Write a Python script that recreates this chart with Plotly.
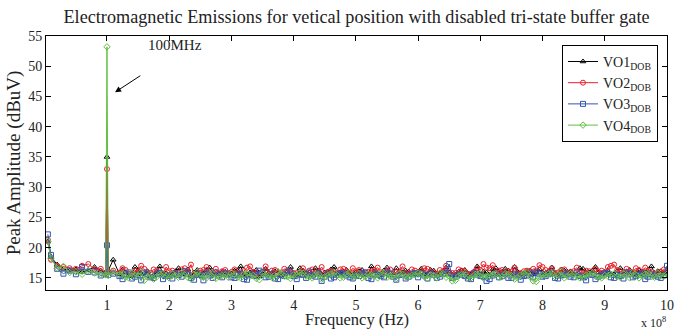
import plotly.graph_objects as go

# Frequencies in MHz
head_mhz = [5, 10, 20, 30, 40, 50, 60, 70, 80, 90, 98, 100, 102, 110]
tail_mhz = list(range(120, 1001, 10))
mid_mhz = list(range(125, 1000, 10))

vo1_head = [21.0, 18.5, 17.2, 16.5, 16.2, 16.4, 16.0, 16.3, 16.8, 16.2, 16.0, 35.0, 16.2, 18.0]
vo1_tail = [15.6,15.9,15.4,16.3,15.8,15.2,16.0,15.7,15.5,
            16.1,15.6,16.4,15.9,15.3,16.2,15.8,15.6,16.0,15.7,
            16.2,15.5,15.9,16.3,15.6,15.8,16.1,15.4,16.0,15.7,
            16.6,15.8,15.5,16.2,15.9,16.4,15.7,16.0,15.6,15.9,
            16.3,15.7,16.1,15.5,16.7,15.8,15.9,16.2,15.6,16.0,
            15.8,16.3,15.6,16.0,15.9,15.5,16.2,15.7,16.1,15.6,
            15.9,16.4,15.8,16.5,15.7,16.0,15.6,16.2,15.9,15.8,
            16.1,15.7,16.3,16.0,15.6,16.6,15.8,16.2,15.9,16.0,
            15.7,16.1,15.9,16.3,15.6,16.0,16.4,15.8,16.1,15.9]
vo1_mid = [16.4,15.3,16.8,15.6,16.1,15.4,16.9,15.8,
           15.5,16.6,15.9,15.2,16.3,15.7,16.7,15.6,16.0,15.4,
           16.2,16.9,15.5,16.0,15.3,16.5,15.8,16.1,15.6,16.8,
           15.4,16.2,15.9,16.6,15.5,16.0,16.8,15.7,16.3,15.6,
           16.1,15.5,16.9,15.8,16.2,15.4,16.6,15.9,16.0,15.7,
           16.5,15.6,16.2,15.8,16.7,15.5,16.0,16.3,15.6,16.9,
           16.0,15.5,16.6,15.9,16.2,16.8,15.7,16.1,15.6,16.4,
           15.8,16.7,15.5,16.2,16.0,15.6,16.5,15.9,16.8,15.7,
           16.2,15.6,16.6,16.0,15.8,16.3,15.5,16.9,16.1,15.8]

vo2_head = [21.3, 18.0, 17.0, 16.8, 16.6, 16.5, 17.0, 17.3, 16.4, 16.5, 15.8, 33.0, 16.0, 16.2]
vo2_tail = [15.9,16.3,15.6,16.0,16.5,15.8,16.2,15.7,16.1,
            15.8,16.4,16.0,15.6,16.2,16.8,15.9,15.7,16.3,16.0,
            15.7,16.1,16.9,15.8,16.0,15.6,16.3,15.9,16.2,15.8,
            16.0,15.6,16.4,16.1,15.7,16.2,15.9,16.5,15.8,16.1,
            15.7,16.0,16.3,15.9,16.2,15.6,16.1,15.8,16.4,15.9,
            16.6,16.0,15.7,16.1,15.9,15.8,16.2,15.6,16.0,16.3,
            16.7,17.1,16.2,15.8,16.0,15.7,16.1,15.9,16.2,16.8,
            16.0,15.8,16.3,15.7,16.1,15.9,16.2,15.8,16.0,15.9,
            17.0,16.3,15.8,16.1,16.6,15.9,16.2,15.7,16.0,16.1]
vo2_mid = [16.6,15.7,16.2,17.0,15.9,16.4,15.6,16.8,
           16.2,15.8,16.6,17.2,15.9,16.3,15.7,16.5,16.1,15.8,
           16.4,15.9,16.7,16.0,15.6,16.9,16.2,15.8,16.5,16.1,
           15.8,16.6,16.2,15.9,16.8,16.0,15.7,16.4,16.1,16.6,
           16.3,15.9,16.1,16.7,15.8,16.4,16.0,16.9,15.7,16.2,
           16.1,16.5,15.9,16.3,17.0,15.8,16.4,16.1,15.7,16.6,
           17.3,16.6,15.9,16.3,16.1,16.7,15.8,16.2,16.5,17.1,
           16.3,16.6,15.9,16.4,16.0,16.7,15.8,16.1,16.5,16.2,
           16.8,17.2,16.1,16.5,15.9,16.3,16.7,16.0,15.8,16.4]

vo3_head = [22.2, 18.8, 16.5, 15.7, 16.2, 15.6, 16.8, 16.0, 15.9, 15.4, 15.6, 20.4, 15.5, 15.7]
vo3_tail = [15.3,15.7,14.9,15.5,15.9,15.1,15.6,14.8,15.4,
            15.8,15.2,15.6,14.7,15.5,15.9,15.0,15.4,15.7,15.1,
            15.5,14.8,15.6,15.3,15.9,15.2,14.9,15.5,16.0,15.3,
            15.6,15.0,15.4,15.8,15.2,14.9,15.5,15.7,15.1,15.4,
            15.8,15.0,15.6,15.3,15.9,15.2,15.5,14.9,15.6,15.1,
            15.4,15.7,15.0,15.6,17.3,15.2,15.5,14.9,15.8,15.3,
            14.5,15.4,15.1,15.6,15.0,15.5,15.3,15.7,15.9,15.2,
            15.6,15.0,15.4,15.7,15.1,15.3,14.6,15.5,15.2,15.8,
            15.1,15.5,14.9,15.6,15.3,15.8,15.2,15.4,15.0,17.0]
vo3_mid = [14.8,15.9,15.2,14.6,15.6,15.0,15.8,15.3,
           14.9,15.5,16.1,15.0,15.7,14.6,15.4,15.9,15.1,15.6,
           15.0,15.7,14.7,15.4,16.2,15.1,15.6,14.8,15.3,15.9,
           14.8,15.5,15.9,15.2,14.5,15.6,15.1,15.8,15.4,14.9,
           15.3,15.9,14.8,15.5,15.1,15.7,14.7,15.6,15.2,15.8,
           15.7,14.9,15.5,15.2,15.8,15.0,15.6,15.3,14.8,15.5,
           15.2,14.8,15.7,15.3,15.0,15.6,14.7,15.4,15.1,15.7,
           15.3,15.8,14.9,15.5,15.2,15.9,15.1,15.6,14.8,15.4,
           15.7,15.0,15.3,15.9,15.1,15.5,14.8,15.6,15.2,15.4]

vo4_head = [21.0, 18.2, 16.6, 16.9, 15.9, 16.0, 15.6, 16.2, 15.8, 15.6, 15.5, 53.2, 15.4, 15.9]
vo4_tail = [15.5,15.1,15.8,15.3,14.6,15.6,15.2,15.7,15.0,
            15.4,15.9,15.1,15.6,15.3,15.0,15.7,15.2,15.5,15.8,
            15.1,15.6,15.3,14.9,15.7,15.4,15.0,15.8,15.2,15.5,
            15.9,15.3,15.0,15.6,15.2,15.7,15.4,15.1,15.8,15.3,
            15.0,15.6,15.3,15.9,15.1,15.5,15.7,15.2,15.4,15.8,
            15.2,15.5,15.0,15.7,15.3,14.6,15.6,15.1,15.4,15.8,
            15.3,15.6,15.1,15.7,15.4,15.0,15.8,15.2,14.4,15.5,
            15.7,15.2,16.1,15.3,15.6,15.0,15.5,15.8,15.1,15.4,
            15.6,15.2,15.7,15.0,15.5,15.3,15.8,15.1,15.4,15.6]
vo4_mid = [15.8,15.0,15.4,15.9,15.2,14.8,15.6,15.3,
           15.7,15.1,15.5,14.8,16.0,15.2,15.6,14.9,15.4,15.1,
           15.6,15.0,15.8,15.4,14.7,15.5,15.1,15.9,15.3,14.9,
           15.5,15.8,15.2,15.6,14.8,15.4,15.9,15.0,15.6,15.1,
           15.7,15.2,15.5,15.0,15.8,15.3,14.9,15.6,15.2,15.5,
           15.6,14.9,15.4,15.8,15.1,14.5,15.3,15.7,15.0,15.5,
           15.0,15.4,15.7,15.2,15.6,14.8,15.5,15.9,14.5,15.2,
           15.4,15.8,15.5,15.0,15.7,15.3,15.1,15.6,15.4,15.0,
           15.3,15.7,15.1,15.5,15.9,15.0,15.6,15.2,15.8,15.3]

series_names = ["VO1<sub>DOB</sub>", "VO2<sub>DOB</sub>", "VO3<sub>DOB</sub>", "VO4<sub>DOB</sub>"]
series_parts = [(vo1_head, vo1_tail, vo1_mid), (vo2_head, vo2_tail, vo2_mid),
                (vo3_head, vo3_tail, vo3_mid), (vo4_head, vo4_tail, vo4_mid)]
colors = ["#000000", "#e8202a", "#3456b0", "#62c040"]
symbols = ["triangle-up-open", "circle-open", "square-open", "diamond-open"]

x_tick_vals = [1e8 * i for i in range(1, 11)]
x_tick_text = [str(i) for i in range(1, 11)]
y_tick_vals = [15, 20, 25, 30, 35, 40, 45, 50, 55]

FONT = "Liberation Serif, Times New Roman, serif"


def merge(head, tail, mid):
    pts = list(zip(head_mhz, head)) + list(zip(tail_mhz, tail)) + list(zip(mid_mhz, mid))
    pts.sort(key=lambda p: p[0])
    return [p[0] * 1e6 for p in pts], [p[1] for p in pts]


fig = go.Figure()
for name, parts, c, s in zip(series_names, series_parts, colors, symbols):
    xs, ys = merge(*parts)
    fig.add_trace(go.Scatter(
        x=xs, y=ys, name=name, mode="lines+markers",
        line=dict(color=c, width=1),
        marker=dict(symbol=s, size=5, color=c, line=dict(width=1, color=c)),
    ))

fig.update_layout(
    width=674, height=329,
    margin=dict(l=46, r=7, t=36, b=39),
    paper_bgcolor="white", plot_bgcolor="white",
    font=dict(family=FONT, color="#222222", size=14),
    title=dict(text="Electromagnetic Emissions for vetical position with disabled tri-state buffer gate",
               x=0.5, xref="paper", xanchor="center", y=0.948, yanchor="middle",
               font=dict(size=18.2, family=FONT, color="#222222")),
    showlegend=True,
    legend=dict(x=0.9855, y=0.965, xanchor="right", yanchor="top",
                bgcolor="white", bordercolor="#000000", borderwidth=1,
                font=dict(size=14, family=FONT, color="#222222"),
                tracegroupgap=0, itemwidth=30),
    xaxis=dict(range=[2e6, 1e9], tickvals=x_tick_vals, ticktext=x_tick_text,
               ticks="inside", ticklen=5, tickcolor="#000000",
               showline=True, linecolor="#000000", linewidth=1, mirror="ticks",
               showgrid=False, zeroline=False, ticklabelstandoff=2, automargin=False,
               tickfont=dict(size=14, family=FONT)),
    yaxis=dict(range=[13, 55], tickvals=y_tick_vals,
               ticks="inside", ticklen=5, tickcolor="#000000",
               showline=True, linecolor="#000000", linewidth=1, mirror="ticks",
               showgrid=False, zeroline=False,
               title=dict(text="Peak Amplitude (dBuV)", font=dict(size=19, family=FONT), standoff=2),
               tickfont=dict(size=14, family=FONT)),
)

# x-axis title placed as paper text, just below the tick labels
fig.add_annotation(x=0.5, y=-0.116, xref="paper", yref="paper", text="Frequency (Hz)",
                   showarrow=False, xanchor="center", yanchor="middle",
                   font=dict(size=16.5, family=FONT, color="#222222"))

fig.add_annotation(x=1.13e8, y=45.7, ax=1.56e8, ay=48.6, xref="x", yref="y",
                   axref="x", ayref="y", text="", showarrow=True,
                   arrowhead=2, arrowsize=1.2, arrowwidth=1, arrowcolor="#000000")
fig.add_annotation(x=2.1e8, y=53.5, xref="x", yref="y", text="100MHz", showarrow=False,
                   font=dict(size=15, family=FONT, color="#222222"))
fig.add_annotation(x=1.002, y=-0.126, xref="paper", yref="paper", text="x 10<sup>8</sup>",
                   showarrow=False, xanchor="right", yanchor="middle",
                   font=dict(size=12, family=FONT, color="#222222"))

fig.write_html("out.html", config={"displayModeBar": False},
               post_script="document.body.style.margin='0px';")
